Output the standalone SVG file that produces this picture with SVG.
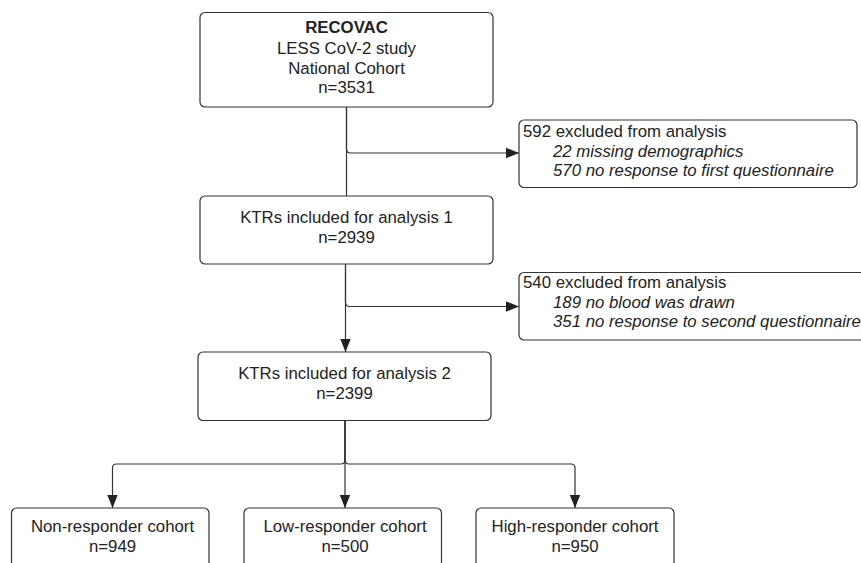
<svg xmlns="http://www.w3.org/2000/svg" width="861" height="563" viewBox="0 0 861 563">
<style>
.box{fill:#fff;stroke:#333;stroke-width:1.2}
.t{font-family:"Liberation Sans",Arial,sans-serif;font-size:16.8px;fill:#222}
.c{text-anchor:middle}
.b{font-weight:bold}
.i{font-style:italic}
.ln{fill:none;stroke:#333;stroke-width:1.2}
</style>
<defs>
<marker id="ah" markerWidth="14" markerHeight="12" refX="13" refY="6" orient="auto" markerUnits="userSpaceOnUse">
<path d="M0,0.8 L13,6 L0,11.2 Z" fill="#222"/>
</marker>
</defs>
<g id="connectors">
<path class="ln" d="M346.5,107 V149 Q346.5,153 350.5,153 H519" marker-end="url(#ah)"/>
<path class="ln" d="M346.5,107 V196"/>
<path class="ln" d="M345.5,264 V302 Q345.5,306.5 349.5,306.5 H519" marker-end="url(#ah)"/>
<path class="ln" d="M345.5,264 V352" marker-end="url(#ah)"/>
<path class="ln" d="M345,420 V460 Q345,464 341,464 H116.5 Q112.5,464 112.5,468 V508" marker-end="url(#ah)"/>
<path class="ln" d="M345,420 V460 Q345,464 349,464 H571 Q575,464 575,468 V508" marker-end="url(#ah)"/>
<path class="ln" d="M345,420 V508" marker-end="url(#ah)"/>
</g>
<g id="recovac">
<rect class="box" x="200" y="12.5" width="293" height="94.5" rx="5"/>
<text class="t c b" x="346.5" y="33">RECOVAC</text>
<text class="t c" x="346.5" y="53.5">LESS CoV-2 study</text>
<text class="t c" x="346.5" y="73.5">National Cohort</text>
<text class="t c" x="346.5" y="93">n=3531</text>
</g>
<g id="excluded1">
<rect class="box" x="519" y="120" width="338" height="67.5" rx="5"/>
<text class="t" x="523" y="136.5">592 excluded from analysis</text>
<text class="t i" x="553" y="156.5">22 missing demographics</text>
<text class="t i" x="553" y="176">570 no response to first questionnaire</text>
</g>
<g id="analysis1">
<rect class="box" x="200" y="196" width="293" height="68" rx="5"/>
<text class="t c" x="346.5" y="222.5">KTRs included for analysis 1</text>
<text class="t c" x="346.5" y="243">n=2939</text>
</g>
<g id="excluded2">
<rect class="box" x="519" y="272.5" width="350" height="67.5" rx="5"/>
<text class="t" x="523" y="288">540 excluded from analysis</text>
<text class="t i" x="553" y="308">189 no blood was drawn</text>
<text class="t i" x="553" y="327">351 no response to second questionnaire</text>
</g>
<g id="analysis2">
<rect class="box" x="198" y="352" width="293" height="68.5" rx="5"/>
<text class="t c" x="344.5" y="379">KTRs included for analysis 2</text>
<text class="t c" x="344.5" y="399">n=2399</text>
</g>
<g id="nonresponder">
<rect class="box" x="11.5" y="508" width="197.5" height="70" rx="5"/>
<text class="t c" x="112.5" y="532">Non-responder cohort</text>
<text class="t c" x="112.5" y="552">n=949</text>
</g>
<g id="lowresponder">
<rect class="box" x="244" y="508" width="197.5" height="70" rx="5"/>
<text class="t c" x="345" y="532">Low-responder cohort</text>
<text class="t c" x="345" y="552">n=500</text>
</g>
<g id="highresponder">
<rect class="box" x="476" y="508" width="198" height="70" rx="5"/>
<text class="t c" x="575" y="532">High-responder cohort</text>
<text class="t c" x="575" y="552">n=950</text>
</g>
</svg>
